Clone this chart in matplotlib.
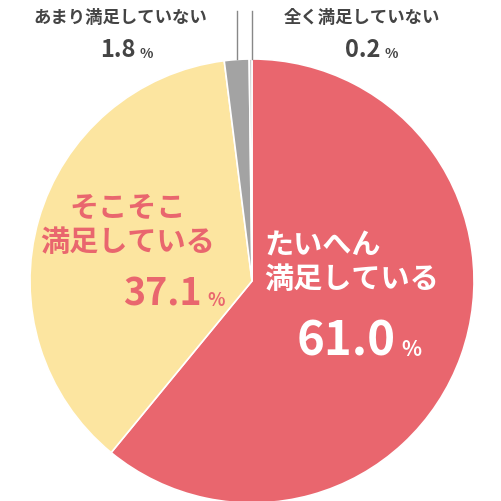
import matplotlib
matplotlib.use("Agg")
import matplotlib.pyplot as plt

categories = ["たいへん\n満足している", "そこそこ\n満足している", "あまり満足していない", "全く満足していない"]
values = [61.0, 37.1, 1.8, 0.2]
colors = ["#E9666E", "#FCE5A0", "#A3A3A3", "#C8C8C8"]

plt.rcParams['font.family'] = ['Noto Sans CJK JP', 'DejaVu Sans']
fig = plt.figure(figsize=(5.02, 5.02), dpi=100)
W = H = 502.0
ax = fig.add_axes([30/W, (H-504)/H, 444/W, 444/H])
ax.pie(values, colors=colors, startangle=90, counterclock=False, radius=1,
       wedgeprops=dict(edgecolor="white", linewidth=1.2))
ax.set_xlim(-1, 1)
ax.set_ylim(-1, 1)
ax.set_aspect("equal")

def t(x, y, s, **kw):
    fig.text(x/W, 1-y/H, s, **kw)

red = "#E9666E"
dark = "#444444"
# たいへん
t(264, 262, categories[0], color="white", fontsize=21, fontweight="bold", ha="left", va="center", linespacing=1.15)
t(396, 342, f"{values[0]:.1f}", color="white", fontsize=34, fontweight="bold", ha="right", va="center")
t(401, 350, "%", color="white", fontsize=15, fontweight="bold", ha="left", va="center")
# そこそこ
t(128, 225, categories[1], color=red, fontsize=21, fontweight="bold", ha="center", va="center", linespacing=1.15)
t(202, 294, f"{values[1]:.1f}", color=red, fontsize=27, fontweight="bold", ha="right", va="center")
t(207, 300, "%", color=red, fontsize=13, fontweight="bold", ha="left", va="center")
# あまり
t(120, 18, categories[2], color=dark, fontsize=12.5, fontweight="bold", ha="center", va="center")
t(136, 50, f"{values[2]:.1f}", color=dark, fontsize=17, fontweight="bold", ha="right", va="center")
t(140, 54, "%", color=dark, fontsize=10, fontweight="bold", ha="left", va="center")
# 全く
t(362, 18, categories[3], color=dark, fontsize=12.5, fontweight="bold", ha="center", va="center")
t(381, 50, f"{values[3]:.1f}", color=dark, fontsize=17, fontweight="bold", ha="right", va="center")
t(385, 54, "%", color=dark, fontsize=10, fontweight="bold", ha="left", va="center")
# leader lines
fig.add_artist(plt.Line2D([237/W, 237/W], [1-12/H, 1-60/H], color="#888888", lw=1))
fig.add_artist(plt.Line2D([252/W, 252/W], [1-12/H, 1-60/H], color="#888888", lw=1))

fig.savefig("out.png", dpi=100)
